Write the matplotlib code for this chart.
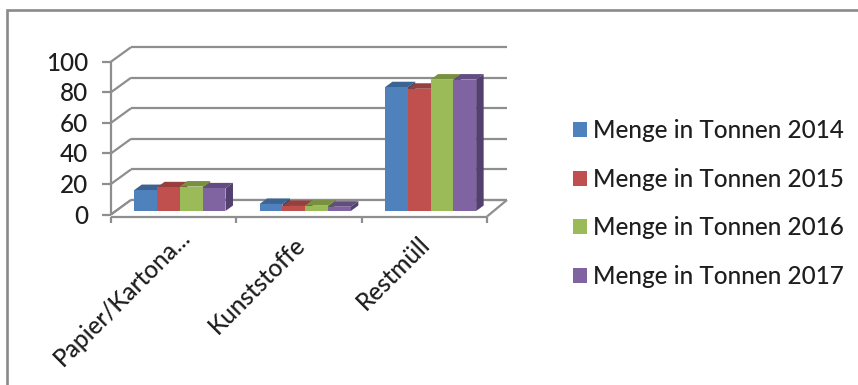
import matplotlib
matplotlib.use('Agg')
import matplotlib.pyplot as plt
from matplotlib.patches import Patch, Polygon, Rectangle
from matplotlib.transforms import Affine2D

# Abfallmengen je Kategorie und Jahr
categories = ['Papier/Kartona...', 'Kunststoffe', 'Restmüll']
menge_2014 = [13.7, 4.6, 81]
menge_2015 = [15.5, 3.3, 80]
menge_2016 = [16, 3.5, 86]
menge_2017 = [14.8, 2.8, 86]
years = ['Menge in Tonnen 2014', 'Menge in Tonnen 2015',
         'Menge in Tonnen 2016', 'Menge in Tonnen 2017']
yticks = [0, 20, 40, 60, 80, 100]

series = [menge_2014, menge_2015, menge_2016, menge_2017]
front_cols = ['#4F81BD', '#C0504D', '#9BBB59', '#8064A2']
top_cols = ['#3C6492', '#963F3C', '#78913F', '#624C80']
side_cols = ['#2F4F75', '#783230', '#5F7432', '#54406F']
grid_col = '#8E8E8E'
text_col = '#1E1E1E'

W, H = 858, 385
plt.rcParams['font.family'] = ['Lato', 'DejaVu Sans']
plt.rcParams['font.weight'] = 'medium'

fig = plt.figure(figsize=(W / 100, H / 100), dpi=100)

# Rahmen um das Diagramm, rechts und unten abgeschnitten
fig.add_artist(Rectangle((7 / W, -0.1), 1.1, 0.1 + (H - 10) / H, transform=fig.transFigure,
                         fill=False, ec='#8A8A8A', lw=1.9))

ax = fig.add_axes([111 / W, (H - 214.5) / H, 376 / W, 152.8 / H])
ax.set_xlim(0, 3)
ax.set_ylim(0, 100)
ax.axis('off')


def shifted(dx, dy):
    # Datenkoordinaten plus Tiefenversatz in Pixeln
    return ax.transData + Affine2D().translate(dx, dy)


wall_dx, wall_dy = 20, 14.5
bar_dx, bar_dy = 6.2, 3.5
depth_dx, depth_dy = 7.5, 5.5
bar_w = 0.182

grid = dict(color=grid_col, lw=1.6, clip_on=False, solid_capstyle='butt')

# Rueckwand und Seitenwand
for v in yticks:
    ax.plot([0, 3], [v, v], transform=shifted(wall_dx, wall_dy), zorder=1, **grid)
    x0, y0 = ax.transData.transform((0, v))
    ax.plot([x0, x0 + wall_dx], [y0, y0 + wall_dy], transform=None, zorder=1, **grid)
    ax.plot([x0 - 9, x0], [y0, y0], transform=None, zorder=3, **grid)
    ax.text(x0 - 23, y0 - 1.5, str(v), transform=None, ha='right', va='center',
            fontsize=17.5, color=text_col)

# Boden weiss abdecken, rechte Bodenkante
xr, yr = ax.transData.transform((3, 0))
x0, y0 = ax.transData.transform((0, 0))
ax.add_patch(Polygon([(x0, y0 - 2), (xr, yr - 2), (xr + wall_dx, yr + wall_dy), (x0 + wall_dx, y0 + wall_dy)],
                     closed=True, transform=None, fc='white', ec='none', zorder=1.5))
ax.plot([x0 + wall_dx, xr + wall_dx], [y0 + wall_dy, yr + wall_dy], transform=None, zorder=1.6, **grid)
ax.plot([x0, x0 + wall_dx], [y0, y0 + wall_dy], transform=None, zorder=1.6, **grid)
ax.plot([xr, xr + wall_dx], [yr - 2, yr + wall_dy], transform=None, zorder=1.6, **grid)

# Vorderkanten und Striche der Kategorieachse
ax.plot([0, 0], [0, 100], zorder=3, **grid)
ax.plot([0, 3], [0, 0], transform=shifted(0, -2), zorder=3, **grid)
for i in range(len(categories) + 1):
    xt, yt = ax.transData.transform((i, 0))
    ax.plot([xt, xt], [yt - 8, yt - 2], transform=None, zorder=3, **grid)

# Saeulen: Front per ax.bar, Ober- und Seitenflaeche als Polygone dahinter
for s, vals in enumerate(series):
    for c, v in enumerate(vals):
        left = c + 0.5 + (s - 2) * bar_w
        tr = shifted(bar_dx, bar_dy)
        ax.bar(left, v, bar_w, align='edge', color=front_cols[s], transform=tr,
               zorder=5 + s * 0.1, clip_on=False)
        (xa, ya), (xb, yb) = ax.transData.transform([(left, 0), (left + bar_w, v)])
        xa += bar_dx
        xb += bar_dx
        ya += bar_dy
        yb += bar_dy
        ax.add_patch(Polygon([(xa, yb), (xb, yb), (xb + depth_dx, yb + depth_dy), (xa + depth_dx, yb + depth_dy)],
                             closed=True, transform=None, fc=top_cols[s], ec='none', zorder=4 + s * 0.1))
        ax.add_patch(Polygon([(xb, ya), (xb + depth_dx, ya + depth_dy), (xb + depth_dx, yb + depth_dy), (xb, yb)],
                             closed=True, transform=None, fc=side_cols[s], ec='none', zorder=4 + s * 0.1))

# Kategorien schraeg unter der Achse, die gekuerzte etwas weiter rechts
label_dx = [13, 2, 2]
label_dy = [-19, -26, -26]
for i, name in enumerate(categories):
    xt, yt = ax.transData.transform((i + 0.5, 0))
    ax.text(xt + label_dx[i], yt + label_dy[i], name, transform=None, rotation=45, rotation_mode='anchor',
            ha='right', va='center', fontsize=17.5, color=text_col)

handles = [Patch(facecolor=front_cols[i], label=years[i]) for i in range(4)]
fig.legend(handles=handles, loc='upper left', bbox_to_anchor=(566 / W, (H - 112) / H),
           frameon=False, fontsize=17.5, labelspacing=1.05, handlelength=0.58, handleheight=0.58,
           handletextpad=0.25, labelcolor=text_col, borderpad=0.3, borderaxespad=0)

fig.savefig('out.png', dpi=100)
